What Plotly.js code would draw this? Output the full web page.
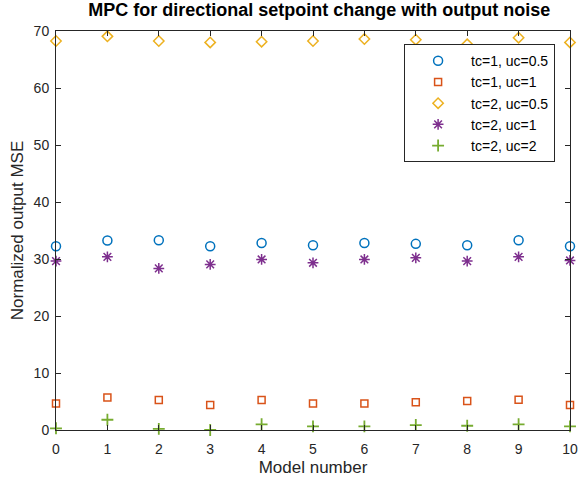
<!DOCTYPE html>
<html>
<head>
<meta charset="utf-8">
<script src="https://cdn.plot.ly/plotly-3.0.1.min.js"></script>
<style>html,body{margin:0;padding:0;background:#fff;}#chart{width:579px;height:481px;}</style>
</head>
<body>
<div id="chart"></div>
<script>
const models = [0,1,2,3,4,5,6,7,8,9,10];
const tc1_uc05 = [32.25,33.25,33.3,32.25,32.8,32.4,32.8,32.66,32.4,33.3,32.25];
const tc1_uc1  = [4.65,5.7,5.25,4.4,5.25,4.65,4.65,4.85,5.07,5.3,4.4];
const tc2_uc05 = [68.25,69.06,68.25,68.0,68.13,68.25,68.6,68.48,67.66,68.83,68.0];
const tc2_uc1  = [29.63,30.38,28.35,29.05,29.92,29.33,29.92,30.2,29.63,30.38,29.75];
const tc2_uc2  = [0.3,1.8,0.2,0.0,1.0,0.63,0.63,0.87,0.75,1.0,0.63];
const names = ['tc=1, uc=0.5','tc=1, uc=1','tc=2, uc=0.5','tc=2, uc=1','tc=2, uc=2'];
const colors = ['#0072BD','#D95319','#EDB120','#7E2F8E','#77AC30'];
const symbols = ['circle-open','square-open','diamond-open','asterisk-open','cross-thin-open'];
const sizes = [9,7,8,9,8.5];
const series = [tc1_uc05, tc1_uc1, tc2_uc05, tc2_uc1, tc2_uc2];
const traces = series.map((s,i)=>({
  x: models, y: s, type:'scatter', mode:'markers', name: names[i],
  marker:{symbol:symbols[i], size:sizes[i], color:colors[i], line:{color:colors[i], width:i===4?1.8:1.5}},
  cliponaxis:false
}));
const F = 'Liberation Sans, Arial, Helvetica';
const axcommon = {
  showgrid:false, zeroline:false, showline:true, mirror:'ticks', linecolor:'#262626', linewidth:1,
  ticks:'inside', ticklen:5, tickcolor:'#262626', tickfont:{family:F, size:14, color:'#262626'}
};
const layout = {
  width:579, height:481,
  margin:{l:56, r:9, t:31, b:51},
  paper_bgcolor:'#fff', plot_bgcolor:'#fff',
  title:{text:'<b>MPC for directional setpoint change with output noise</b>', font:{family:F, size:18, color:'#000'}, xref:'paper', x:0.512, xanchor:'center', yref:'container', y:0.979, yanchor:'middle'},
  xaxis:Object.assign({}, axcommon, {range:[0,10], tickvals:models, ticklabelstandoff:6, title:{text:'Model number', font:{family:F, size:17, color:'#262626'}, standoff:5}}),
  yaxis:Object.assign({}, axcommon, {range:[0,70], tickvals:[0,10,20,30,40,50,60,70], ticklabelstandoff:3, title:{text:'Normalized output MSE', font:{family:F, size:17, color:'#262626'}, standoff:5}}),
  legend:{x:0.971, xanchor:'right', y:0.967, yanchor:'top', bordercolor:'#262626', borderwidth:1, bgcolor:'#fff',
    font:{family:F, size:14, color:'#000'}, itemwidth:56, tracegroupgap:0},
  showlegend:true
};
Plotly.newPlot('chart', traces, layout, {displayModeBar:false, staticPlot:true});
</script>
</body>
</html>
